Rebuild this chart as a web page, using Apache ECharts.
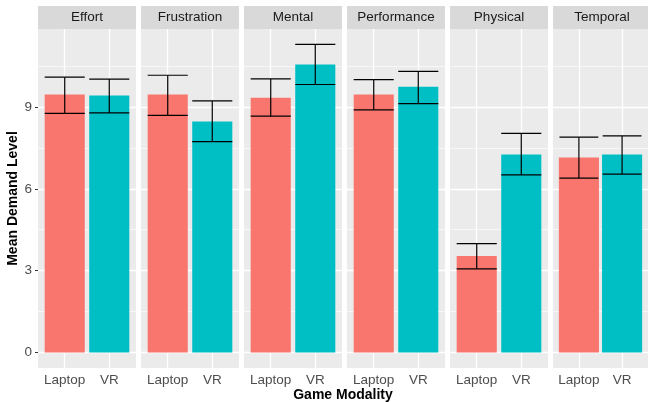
<!DOCTYPE html>
<html>
<head>
<meta charset="utf-8">
<script src="https://cdn.jsdelivr.net/npm/echarts@6/dist/echarts.min.js"></script>
<style>
  html, body { margin: 0; padding: 0; background: #fff; }
  #main { width: 648px; height: 402px; }
</style>
</head>
<body>
<div id="main"></div>
<script>
// facets (NASA-TLX demands) and game modality
var facets = ['Effort', 'Frustration', 'Mental', 'Performance', 'Physical', 'Temporal'];
var modes = ['Laptop', 'VR'];

// mean demand level
var laptopMean = [9.45, 9.45, 9.34, 9.45, 3.54, 7.15];
var vrMean = [9.42, 8.47, 10.55, 9.74, 7.26, 7.26];

// error bar ends
var laptopLow = [8.76, 8.69, 8.66, 8.89, 3.07, 6.39];
var laptopHigh = [10.09, 10.16, 10.03, 10.00, 3.99, 7.89];
var vrLow = [8.78, 7.73, 9.82, 9.12, 6.51, 6.54];
var vrHigh = [10.02, 9.22, 11.29, 10.30, 8.03, 7.94];

var yTicks = [0, 3, 6, 9];
var yMinor = [1.5, 4.5, 7.5, 10.5];

var colors = ['#F8766D', '#00BFC4'];
var FONT = 'Liberation Sans, Arial, sans-serif';

var myChart = echarts.init(document.getElementById('main'));

var panelLeft = 38, panelTop = 29, panelW = 98, panelH = 339, pitch = 103;
var yMin = -0.5645, yMax = 11.854;

var grids = [], xAxes = [], yAxes = [], series = [], graphics = [];

// grid lines as mark lines (drawn under the bars)
var gridLines = [];
yTicks.forEach(function (v) {
    gridLines.push({ yAxis: v, lineStyle: { color: '#fff', width: 1.3, type: 'solid' } });
});
yMinor.forEach(function (v) {
    gridLines.push({ yAxis: v, lineStyle: { color: '#fff', width: 0.6, type: 'solid' } });
});
[1, 2].forEach(function (v) {
    gridLines.push({ xAxis: v, lineStyle: { color: '#fff', width: 1.3, type: 'solid' } });
});

function errorBar(params, api) {
    var x = api.value(0);
    var lo = api.coord([x, api.value(1)]);
    var hi = api.coord([x, api.value(2)]);
    var l = api.coord([x - 0.45, api.value(1)])[0];
    var r = api.coord([x + 0.45, api.value(1)])[0];
    var st = { stroke: '#000', lineWidth: 1.2 };
    return {
        type: 'group',
        children: [
            { type: 'line', shape: { x1: lo[0], y1: lo[1], x2: hi[0], y2: hi[1] }, style: st },
            { type: 'line', shape: { x1: l, y1: hi[1], x2: r, y2: hi[1] }, style: st },
            { type: 'line', shape: { x1: l, y1: lo[1], x2: r, y2: lo[1] }, style: st }
        ]
    };
}

for (var i = 0; i < facets.length; i++) {
    var left = panelLeft + pitch * i;
    grids.push({
        left: left, top: panelTop, width: panelW, height: panelH,
        show: true, backgroundColor: '#EBEBEB', borderWidth: 0
    });
    xAxes.push({
        type: 'value', gridIndex: i, min: 0.4, max: 2.6,
        axisLine: { show: false },
        splitLine: { show: false },
        axisTick: { show: true, customValues: [1, 2], length: 3, lineStyle: { color: '#333', width: 1 } },
        axisLabel: {
            customValues: [1, 2], margin: 5, color: '#4D4D4D', fontSize: 13.5, fontFamily: FONT,
            formatter: function (v) { return modes[Math.round(v) - 1]; }
        }
    });
    yAxes.push({
        type: 'value', gridIndex: i, min: yMin, max: yMax,
        name: i === 0 ? 'Mean Demand Level' : '',
        nameLocation: 'middle', nameRotate: 90, nameGap: 13,
        nameTextStyle: { fontWeight: 'bold', fontSize: 14, color: '#000', fontFamily: FONT },
        axisLine: { show: false },
        splitLine: { show: false },
        axisTick: { show: i === 0, customValues: yTicks, length: 3, lineStyle: { color: '#333', width: 1 } },
        axisLabel: {
            show: i === 0, customValues: yTicks, margin: 6, color: '#4D4D4D', fontSize: 13.5, fontFamily: FONT
        }
    });
    series.push({
        type: 'bar', xAxisIndex: i, yAxisIndex: i, z: 2,
        barWidth: panelW * 0.9 / 2.2,
        data: [
            { value: [1, laptopMean[i]], itemStyle: { color: colors[0] } },
            { value: [2, vrMean[i]], itemStyle: { color: colors[1] } }
        ],
        markLine: { silent: true, symbol: 'none', z: 1, label: { show: false }, data: gridLines },
        animation: false
    });
    series.push({
        type: 'custom', xAxisIndex: i, yAxisIndex: i, z: 3,
        renderItem: errorBar,
        encode: { x: 0, y: [1, 2] },
        data: [[1, laptopLow[i], laptopHigh[i]], [2, vrLow[i], vrHigh[i]]],
        animation: false
    });
    // facet strip
    graphics.push({
        type: 'rect', left: left, top: 6, z: 10,
        shape: { width: panelW, height: 23 },
        style: { fill: '#D9D9D9' }
    });
    graphics.push({
        type: 'text', x: left + panelW / 2, y: 17.5, z: 11,
        style: {
            text: facets[i], fill: '#1A1A1A', font: '13.5px ' + FONT,
            textAlign: 'center', textVerticalAlign: 'middle'
        }
    });
}

graphics.push({
    type: 'text', x: (panelLeft + 648) / 2, y: 395, z: 11,
    style: {
        text: 'Game Modality', fill: '#000', font: 'bold 14px ' + FONT,
        textAlign: 'center', textVerticalAlign: 'middle'
    }
});

myChart.setOption({
    animation: false,
    grid: grids,
    xAxis: xAxes,
    yAxis: yAxes,
    series: series,
    graphic: graphics
});
</script>
</body>
</html>
